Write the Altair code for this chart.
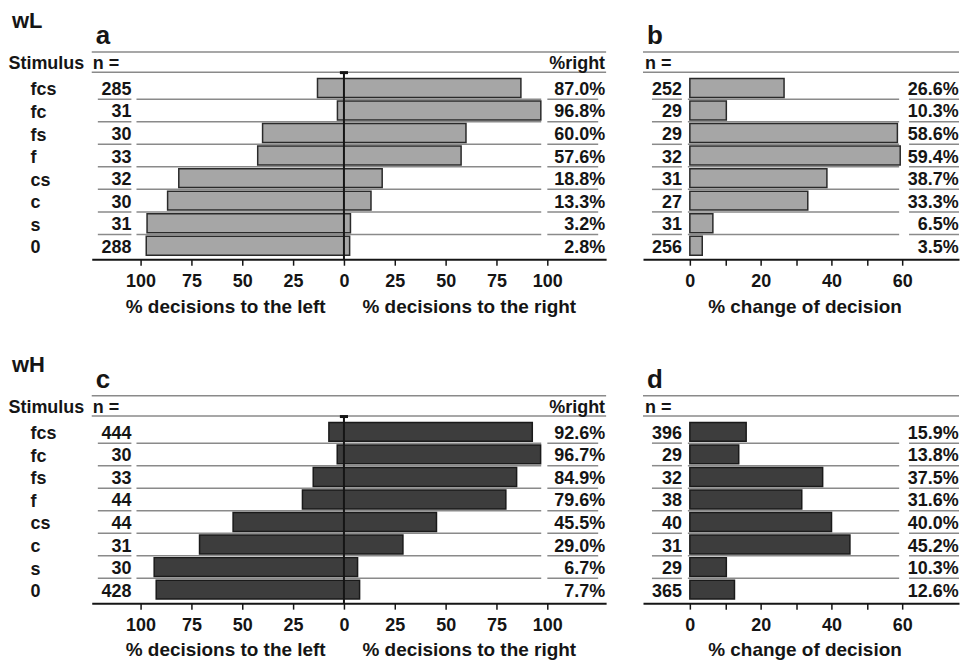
import json
import altair as alt
import pandas as pd

FONT = "Liberation Sans"
INK = "#151515"
LINE = "#8a8a8a"

# ---------------- data ----------------
stimuli = ["fcs", "fc", "fs", "f", "cs", "c", "s", "0"]

wL_n_dir = [285, 31, 30, 33, 32, 30, 31, 288]
wL_pct_right = [87.0, 96.8, 60.0, 57.6, 18.8, 13.3, 3.2, 2.8]
wL_n_change = [252, 29, 29, 32, 31, 27, 31, 256]
wL_pct_change = [26.6, 10.3, 58.6, 59.4, 38.7, 33.3, 6.5, 3.5]

wH_n_dir = [444, 30, 33, 44, 44, 31, 30, 428]
wH_pct_right = [92.6, 96.7, 84.9, 79.6, 45.5, 29.0, 6.7, 7.7]
wH_n_change = [396, 29, 32, 38, 40, 31, 29, 365]
wH_pct_change = [15.9, 13.8, 37.5, 31.6, 40.0, 45.2, 10.3, 12.6]

dir_ticks = [-100, -75, -50, -25, 0, 25, 50, 75, 100]
change_ticks = [0, 10, 20, 30, 40, 50, 60]
title_left = "% decisions to the left"
title_right = "% decisions to the right"
title_change = "% change of decision"
header_n = "n ="
header_right = "%right"

GAP = "\u00a0" * 7
H = 208
Y_DOMAIN = [-1.6, 7.6]

LAYOUT = {
    "dir": dict(width=516, domain=[-124.0, 128.9], n_x=-104.5, n_ul=(-121.0, -104.5),
                row_line=(-102.0, 97.0), pct_ul=(100.0, 125.0), pct_x=128.4, hdr_x=-123.5),
    "chg": dict(width=317, domain=[-13.23, 76.0], n_x=-2.25, n_ul=(-10.7, -2.25),
                row_line=(-0.56, 59.1), pct_ul=(61.9, 76.0), pct_x=75.9, hdr_x=-12.66),
}


def frame(n, val):
    return pd.DataFrame({"stim": stimuli, "row": list(range(len(stimuli))), "n": n, "val": val})


axis_common = dict(
    grid=False, domainColor=INK, domainWidth=2, tickColor=INK, tickWidth=1.5, tickSize=6,
    labelPadding=7, labelFontSize=18, labelFontWeight="bold", labelColor=INK, labelFont=FONT,
    labelFlush=False, labelOverlap=False,
    titleFontSize=19, titleFontWeight="bold", titleColor=INK, titleFont=FONT,
    titleAlign="center", titleBaseline="middle", titleY=47,
)


def calc(chart, **kw):
    return chart.transform_calculate(**{k: repr(float(v)) if isinstance(v, (int, float)) else v
                                        for k, v in kw.items()})


def panel(kind, n, val, fill, stroke, letter):
    L = LAYOUT[kind]
    df = frame(n, val)
    xs = alt.Scale(domain=L["domain"], nice=False, zero=False)
    ys = alt.Scale(domain=Y_DOMAIN, reverse=True, nice=False, zero=False)
    if kind == "dir":
        xa = alt.Axis(values=dir_ticks, labelExpr="abs(datum.value)",
                      title=title_left + GAP + title_right, titleX=259.5, **axis_common)
        ya = alt.Axis(values=list(range(len(stimuli))),
                      labelExpr=json.dumps(stimuli) + "[datum.value]",
                      labelAlign="left", labelPadding=62, labelOffset=2, ticks=False, domain=False,
                      grid=False, labelFontSize=18, labelFontWeight="bold", labelColor=INK,
                      labelFont=FONT, title="Stimulus", titleAngle=0, titleAlign="left",
                      titleBaseline="middle", titleX=-84, titleY=12, titleFontSize=18,
                      titleFontWeight="bold", titleColor=INK, titleFont=FONT)
    else:
        xa = alt.Axis(values=change_ticks,
                      labelExpr="datum.value % 20 == 0 ? datum.label : ''",
                      title=title_change, titleX=162, **axis_common)
        ya = None

    def xf(f):
        return alt.X(f, type="quantitative", scale=xs, axis=xa)

    def yf(f):
        return alt.Y(f, type="quantitative", scale=ys, axis=ya)

    base = alt.Chart(df)
    one = base.transform_filter("datum.row == 0")
    layers = []

    # header lines
    for yv in (Y_DOMAIN[0], -0.7):
        layers.append(calc(one, xa_=L["domain"][0], xb_=L["domain"][1], yv_=yv).mark_rule(
            color=LINE, strokeWidth=1.5).encode(x=xf("xa_"), x2=alt.X2("xb_"), y=yf("yv_")))

    # row separators
    seps = base.transform_filter("datum.row < 7").transform_calculate(sep="datum.row + 0.5")
    for a, b in (L["n_ul"], L["row_line"], L["pct_ul"]):
        layers.append(calc(seps, xa_=a, xb_=b).mark_rule(color=LINE, strokeWidth=1.5).encode(
            x=xf("xa_"), x2=alt.X2("xb_"), y=yf("sep")))

    # bars
    bars = base.transform_calculate(y0="datum.row - 0.42", y1="datum.row + 0.42")
    if kind == "dir":
        bars = bars.transform_calculate(lo="datum.val - 100")
    else:
        bars = bars.transform_calculate(lo="0")
    layers.append(bars.mark_bar(fill=fill, stroke=stroke, strokeWidth=1.5).encode(
        x=xf("lo"), x2=alt.X2("val"), y=yf("y0"), y2=alt.Y2("y1")))

    if kind == "dir":
        layers.append(calc(one, x0_=0, ya_=-0.7, yb_=Y_DOMAIN[1]).mark_rule(
            color=INK, strokeWidth=2).encode(x=xf("x0_"), y=yf("ya_"), y2=alt.Y2("yb_")))
        layers.append(calc(one, xa_=-2, xb_=2, yv_=-0.68).mark_rule(
            color=INK, strokeWidth=3).encode(x=xf("xa_"), x2=alt.X2("xb_"), y=yf("yv_")))

    txt = dict(font=FONT, fontSize=18, fontWeight="bold", color=INK, baseline="middle", dy=2)
    layers.append(calc(base, tx_=L["n_x"]).mark_text(align="right", **txt).encode(
        x=xf("tx_"), y=yf("row"), text=alt.Text("n:Q")))
    layers.append(calc(base, tx_=L["pct_x"], lab="format(datum.val, '.1f') + '%'").mark_text(
        align="right", **txt).encode(x=xf("tx_"), y=yf("row"), text=alt.Text("lab:N")))
    layers.append(calc(one, tx_=L["hdr_x"], ty_=-1.15).mark_text(align="left", **txt).encode(
        x=xf("tx_"), y=yf("ty_"), text=alt.value(header_n)))
    if kind == "dir":
        layers.append(calc(one, tx_=L["pct_x"], ty_=-1.15).mark_text(align="right", **txt).encode(
            x=xf("tx_"), y=yf("ty_"), text=alt.value(header_right)))

    return alt.layer(*layers).properties(
        width=L["width"], height=H,
        title=alt.TitleParams(letter, anchor="start", frame="group", dx=4, fontSize=26,
                              fontWeight="bold", offset=2, color=INK, font=FONT),
    )


def row(label, n_dir, right, n_chg, chg, fill, stroke, l1, l2):
    return alt.hconcat(
        panel("dir", n_dir, right, fill, stroke, l1),
        panel("chg", n_chg, chg, fill, stroke, l2),
        spacing=35,
    ).properties(title=alt.TitleParams(label, anchor="start", fontSize=22, fontWeight="bold",
                                       dx=4, offset=-10, color=INK, font=FONT))


top = row("wL", wL_n_dir, wL_pct_right, wL_n_change, wL_pct_change, "#a6a6a6", "#2a2a2a", "a", "b")
bottom = row("wH", wH_n_dir, wH_pct_right, wH_n_change, wH_pct_change, "#3d3d3d", "#1a1a1a", "c", "d")

chart = alt.vconcat(top, bottom, spacing=38).properties(
    padding={"top": 1, "left": 0, "right": 0, "bottom": 0}).configure(
    font=FONT).configure_view(stroke=None)

chart.save("out.html", embed_options={"renderer": "svg", "actions": False})
